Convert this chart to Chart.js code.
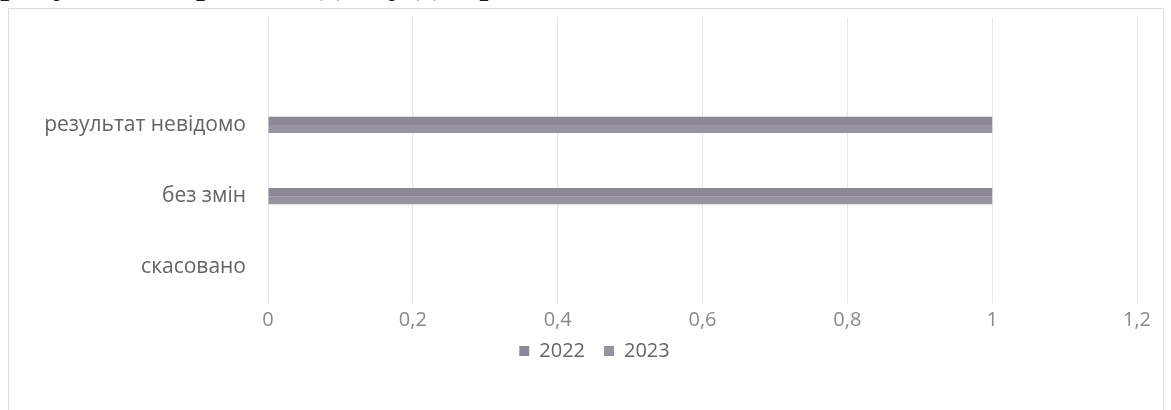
<!DOCTYPE html>
<html>
<head>
<meta charset="utf-8">
<script src="https://cdn.jsdelivr.net/npm/chart.js@4/dist/chart.umd.min.js"></script>
<style>
  body { margin: 0; background: #fff; overflow: hidden; }
  #line { position: absolute; left: 0; top: -39px; white-space: nowrap;
          font-family: "Liberation Serif", serif; font-size: 38px; line-height: 38px; color: #1a1a1a; }
  #frame { position: absolute; left: 8px; top: 8px; width: 1156px; height: 430px;
           border: 1px solid #dedede; box-sizing: border-box; }
  #c { position: absolute; left: 0; top: 0; }
</style>
</head>
<body>
<div id="line">ресу – 2023 роки видно у діаграмі:</div>
<div id="frame"></div>
<canvas id="c" width="1171" height="410"></canvas>
<script>
let categories = ['', 'результат невідомо', 'без змін', 'скасовано']
let years = ['2022', '2023']
let values2022 = [null, 1, 1, 0]
let values2023 = [null, 1, 1, 0]
let xMin = 0
let xMax = 1.2
let xStep = 0.2

let comma = function(v){
    return Number(v.toFixed(1)).toString().replace('.', ',')
}

let font = '"Open Sans", "Noto Sans", sans-serif'

// legend sits a little right of the canvas centre and close under the ticks, like in the picture
let legendShift = {
    id: 'legendShift',
    afterLayout: function(chart){
        chart.legend.left += 26
        chart.legend.right += 26
        chart.legend.top -= 11
        chart.legend.bottom -= 11
    }
}

new Chart(document.getElementById('c'), {
    type: 'bar',
    data: {
        labels: categories,
        datasets: [{
            label: years[0],
            data: values2022,
            backgroundColor: '#8c8897'
        }, {
            label: years[1],
            data: values2023,
            backgroundColor: '#9893a1'
        }]
    },
    plugins: [legendShift],
    options: {
        indexAxis: 'y',
        responsive: false,
        animation: false,
        barPercentage: 1,
        categoryPercentage: 0.227,
        layout: { autoPadding: false, padding: { left: 0, right: 34, top: 18, bottom: 28 } },
        scales: {
            y: {
                grid: { display: false, drawTicks: false },
                border: { display: false },
                ticks: { padding: 22, color: '#646464', font: { family: font, size: 21 } },
                afterFit: function(s){
                    s.width = 268
                    s.paddingTop = 0
                    s.paddingBottom = 0
                }
            },
            x: {
                min: xMin,
                max: xMax,
                grid: { color: '#e6e6e6', drawTicks: false },
                border: { display: false },
                ticks: {
                    stepSize: xStep,
                    padding: 5,
                    color: '#8a8a8a',
                    font: { family: font, size: 20 },
                    callback: function(v){ return comma(v) }
                },
                afterFit: function(s){
                    s.height = 30
                    s.paddingTop = 0
                }
            }
        },
        plugins: {
            legend: {
                position: 'bottom',
                labels: {
                    boxWidth: 10,
                    boxHeight: 10,
                    padding: 19,
                    color: '#646464',
                    font: { family: font, size: 20 }
                }
            },
            tooltip: { enabled: false }
        }
    }
})
</script>
</body>
</html>
